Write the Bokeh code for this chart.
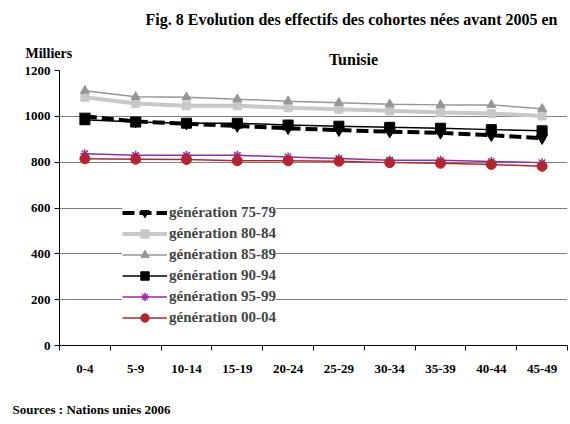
from bokeh.plotting import figure
from bokeh.models import FixedTicker, Range1d, Label, Legend, LegendItem
from bokeh.embed import file_html
from bokeh.resources import INLINE

cats = ["0-4", "5-9", "10-14", "15-19", "20-24", "25-29", "30-34", "35-39", "40-44", "45-49"]
g7579 = [1000, 978, 968, 958, 948, 940, 933, 928, 918, 905]
g8084 = [1083, 1056, 1046, 1046, 1037, 1031, 1024, 1017, 1012, 1002]
g8589 = [1112, 1085, 1083, 1075, 1066, 1059, 1053, 1050, 1050, 1033]
g9094 = [985, 975, 970, 970, 962, 957, 952, 948, 942, 937]
g9599 = [837, 830, 830, 830, 823, 816, 808, 808, 803, 798]
g0004 = [815, 813, 812, 806, 806, 804, 798, 795, 790, 782]
y_ticks = [0, 200, 400, 600, 800, 1000, 1200]

FONT = "'Liberation Serif'"

xs = [i + 0.5 for i in range(len(cats))]

p = figure(width=570, height=424, output_backend="svg", toolbar_location=None,
           x_range=Range1d(0, len(cats)), y_range=Range1d(0, 1200),
           min_border_left=59, min_border_right=3, min_border_top=70, min_border_bottom=79)
p.outline_line_color = None
p.background_fill_color = "white"
p.border_fill_color = "white"

p.xaxis.ticker = FixedTicker(ticks=xs, minor_ticks=list(range(len(cats) + 1)))
p.xaxis.major_label_overrides = {x: c for x, c in zip(xs, cats)}
p.xaxis.major_tick_line_color = None
p.xaxis.major_tick_out = 0
p.xaxis.major_tick_in = 0
p.xaxis.minor_tick_line_color = "black"
p.xaxis.minor_tick_out = 5
p.xaxis.minor_tick_in = 0
p.xaxis.major_label_standoff = 14
p.yaxis.ticker = FixedTicker(ticks=y_ticks, minor_ticks=[])
p.yaxis.major_tick_out = 5
p.yaxis.major_tick_in = 0
p.yaxis.major_label_standoff = 4
for ax in (p.xaxis, p.yaxis):
    ax.axis_line_color = "black"
    ax.major_label_text_font = FONT
    ax.major_label_text_font_style = "bold"
    ax.major_label_text_font_size = "13px"
    ax.major_label_text_color = "black"
p.xgrid.visible = False
p.ygrid.ticker = FixedTicker(ticks=y_ticks)
p.ygrid.grid_line_color = "#7f7f7f"
p.ygrid.grid_line_width = 1.2

series = [
    ("génération 75-79", g7579, dict(color="black", lw=4, dash="12 5", marker="inverted_triangle", size=11)),
    ("génération 80-84", g8084, dict(color="#c8c8c8", lw=4, dash="solid", marker="square", size=8)),
    ("génération 85-89", g8589, dict(color="#969696", lw=1.5, dash="solid", marker="triangle", size=9)),
    ("génération 90-94", g9094, dict(color="black", lw=1.5, dash="solid", marker="square", size=10)),
    ("génération 95-99", g9599, dict(color="#9b2a9e", lw=1.5, dash="solid", marker="asterisk", size=9)),
    ("génération 00-04", g0004, dict(color="#b3262f", lw=1.5, dash="solid", marker="circle", size=10)),
]

items = []
for label, vals, st in series:
    rl = p.line(xs, vals, line_color=st["color"], line_width=st["lw"], line_dash=st["dash"])
    rm = p.scatter(xs, vals, marker=st["marker"], size=st["size"], fill_color=st["color"],
                   line_color=st["color"], line_width=1.5 if st["marker"] == "asterisk" else 1)
    items.append(LegendItem(label=label, renderers=[rl, rm]))

legend = Legend(items=items, location=(63, 17), orientation="vertical",
                border_line_color=None, background_fill_color="white", background_fill_alpha=1,
                label_text_font=FONT, label_text_font_style="bold", label_text_font_size="15px",
                glyph_width=45, glyph_height=21, label_height=21, spacing=0, padding=12,
                margin=0, label_standoff=2)
p.add_layout(legend)


def lab(text, x, y, size, align="left"):
    # placed in the top side panel (so it is not clipped to the plot frame)
    p.add_layout(Label(x=x, y=y, x_units="screen", y_units="screen", text=text,
                       text_font=FONT, text_font_style="bold", text_font_size=size,
                       text_align=align, text_baseline="middle", text_color="black"), "above")


lab("Fig. 8 Evolution des effectifs des cohortes nées avant 2005 en", 292, 51, "16px", "center")
lab("Tunisie", 294, -6, "16px", "center")
lab("Milliers", -34, -17, "14px")
lab("Sources : Nations unies 2006", -47, -388, "13px")

open("out.html", "w").write(file_html(p, INLINE))
